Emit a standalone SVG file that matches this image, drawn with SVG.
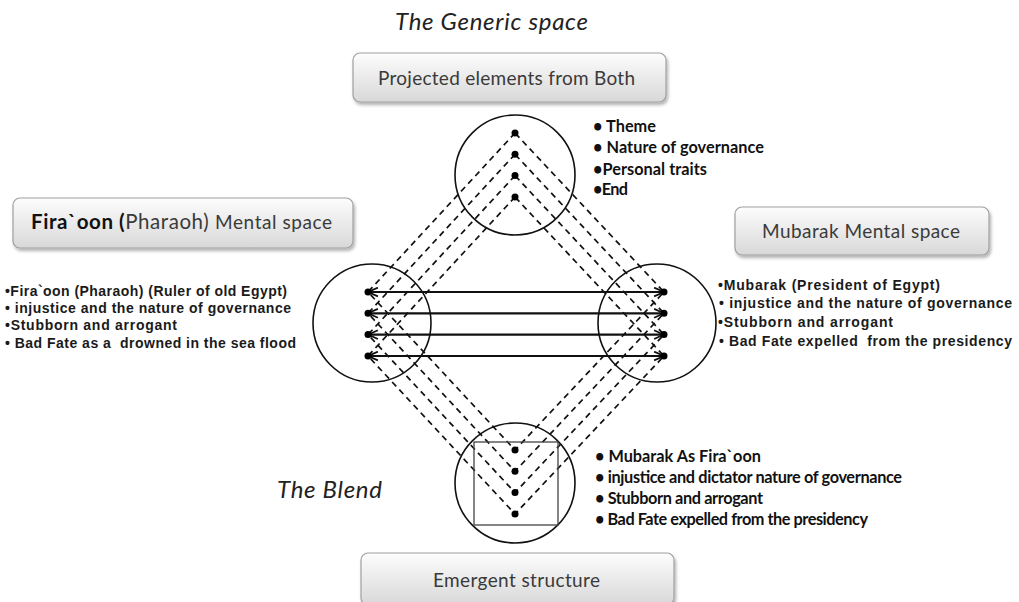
<svg xmlns="http://www.w3.org/2000/svg" width="1019" height="602" viewBox="0 0 1019 602">
<style>
.box{fill:url(#bg);stroke:#a0a0a0;stroke-width:1.2;filter:url(#sh)}
.bt{font-family:Lato,"Open Sans",sans-serif;font-size:19px;fill:#3a3a3a}
.ttl{font-family:Lato,"Open Sans",sans-serif;font-style:italic;font-size:24px;fill:#222}
.cl{font-family:Lato,"Open Sans",sans-serif;font-weight:bold;font-size:16.3px;fill:#111}
.al{font-family:"Liberation Sans",Arial,sans-serif;font-weight:bold;font-size:14px;fill:#1a1a1a}
.circ{fill:none;stroke:#111;stroke-width:1.6}
.dash{fill:none;stroke:#111;stroke-width:1.7;stroke-dasharray:6 4.5}
.solid{stroke:#111;stroke-width:2.2;marker-start:url(#arL);marker-end:url(#arR)}
.dot{fill:#000}
</style>
<defs>
<linearGradient id="bg" x1="0" y1="0" x2="0" y2="1">
<stop offset="0" stop-color="#fdfdfd"/>
<stop offset="1" stop-color="#d8d8d8"/>
</linearGradient>
<filter id="sh" x="-10%" y="-20%" width="120%" height="150%">
<feDropShadow dx="1.5" dy="2.5" stdDeviation="1.8" flood-color="#000" flood-opacity="0.3"/>
</filter>
<marker id="arR" viewBox="0 0 10 10" refX="10" refY="5" markerWidth="5" markerHeight="5" orient="auto" markerUnits="strokeWidth">
<path d="M1,1 L10,5 L1,9" fill="none" stroke="#111" stroke-width="1.6"/>
</marker>
<marker id="arL" viewBox="0 0 10 10" refX="0" refY="5" markerWidth="5" markerHeight="5" orient="auto" markerUnits="strokeWidth">
<path d="M9,1 L0,5 L9,9" fill="none" stroke="#111" stroke-width="1.6"/>
</marker>
</defs>
<rect width="1019" height="602" fill="#fff"/>

<text class="ttl" x="395" y="30" textLength="193">The Generic space</text>
<text class="ttl" x="277" y="498" textLength="105">The Blend</text>

<g id="generic-box">
<rect class="box" x="353" y="53" width="313" height="49" rx="7"/>
<text class="bt" x="378" y="85" textLength="257">Projected elements from Both</text>
</g>
<g id="firaoon-box">
<rect class="box" x="13" y="198" width="340" height="50" rx="7"/>
<text class="bt" x="31" y="229" textLength="301" style="font-size:20.5px"><tspan font-weight="bold" fill="#111">Fira`oon (</tspan><tspan>Pharaoh) </tspan><tspan style="font-size:19px">Mental space</tspan></text>
</g>
<g id="mubarak-box">
<rect class="box" x="735" y="207" width="254" height="48" rx="7"/>
<text class="bt" x="762" y="238" textLength="198">Mubarak Mental space</text>
</g>
<g id="emergent-box">
<rect class="box" x="361" y="553" width="313" height="52" rx="7"/>
<text class="bt" x="433" y="587" textLength="167">Emergent structure</text>
</g>

<g id="connectors">
<path class="dash" d="M515,133 L368,292 L515,450 L664,292 Z"/>
<path class="dash" d="M515,154.3 L368,313.3 L515,471.3 L664,313.3 Z"/>
<path class="dash" d="M515,175.6 L368,334.6 L515,492.6 L664,334.6 Z"/>
<path class="dash" d="M515,197 L368,356 L515,514 L664,356 Z"/>
<line class="solid" x1="368" y1="292" x2="664" y2="292"/>
<line class="solid" x1="368" y1="313.3" x2="664" y2="313.3"/>
<line class="solid" x1="368" y1="334.6" x2="664" y2="334.6"/>
<line class="solid" x1="368" y1="356" x2="664" y2="356"/>
</g>

<g id="generic-space">
<circle class="circ" cx="515" cy="175" r="60"/>
<circle class="dot" cx="515" cy="133" r="3.5"/>
<circle class="dot" cx="515" cy="154.3" r="3.5"/>
<circle class="dot" cx="515" cy="175.6" r="3.5"/>
<circle class="dot" cx="515" cy="197" r="3.5"/>
<text class="cl" x="593" y="132" textLength="63">• Theme</text>
<text class="cl" x="593" y="153" textLength="171">• Nature of governance</text>
<text class="cl" x="593" y="175" textLength="114">•Personal traits</text>
<text class="cl" x="593" y="195" textLength="35">•End</text>
</g>

<g id="firaoon-space">
<circle class="circ" cx="372" cy="323" r="59"/>
<circle class="dot" cx="368" cy="292" r="3.5"/>
<circle class="dot" cx="368" cy="313.3" r="3.5"/>
<circle class="dot" cx="368" cy="334.6" r="3.5"/>
<circle class="dot" cx="368" cy="356" r="3.5"/>
<text class="al" x="5" y="296" textLength="282">•Fira`oon (Pharaoh) (Ruler of old Egypt)</text>
<text class="al" x="5" y="313" textLength="286">• injustice and the nature of governance</text>
<text class="al" x="5" y="330" textLength="172">•Stubborn and arrogant</text>
<text class="al" x="5" y="348" textLength="291" xml:space="preserve">• Bad Fate as a  drowned in the sea flood</text>
</g>

<g id="mubarak-space">
<circle class="circ" cx="657" cy="323" r="59"/>
<circle class="dot" cx="664" cy="292" r="3.5"/>
<circle class="dot" cx="664" cy="313.3" r="3.5"/>
<circle class="dot" cx="664" cy="334.6" r="3.5"/>
<circle class="dot" cx="664" cy="356" r="3.5"/>
<text class="al" x="718" y="290" textLength="222">•Mubarak (President of Egypt)</text>
<text class="al" x="719" y="308" textLength="293">• injustice and the nature of governance</text>
<text class="al" x="718" y="327" textLength="175">•Stubborn and arrogant</text>
<text class="al" x="719" y="346" textLength="293" xml:space="preserve">• Bad Fate expelled  from the presidency</text>
</g>

<g id="blend-space">
<circle class="circ" cx="515" cy="483" r="60"/>
<rect x="474" y="442" width="84" height="83" fill="none" stroke="#444" stroke-width="1.3"/>
<circle class="dot" cx="515" cy="450" r="3.5"/>
<circle class="dot" cx="515" cy="471.3" r="3.5"/>
<circle class="dot" cx="515" cy="492.6" r="3.5"/>
<circle class="dot" cx="515" cy="514" r="3.5"/>
<text class="cl" x="595" y="462" textLength="166">• Mubarak As Fira`oon</text>
<text class="cl" x="595" y="483" textLength="307">• injustice and dictator nature of governance</text>
<text class="cl" x="595" y="504" textLength="168">• Stubborn and arrogant</text>
<text class="cl" x="595" y="525" textLength="273">• Bad Fate expelled from the presidency</text>
</g>
</svg>
